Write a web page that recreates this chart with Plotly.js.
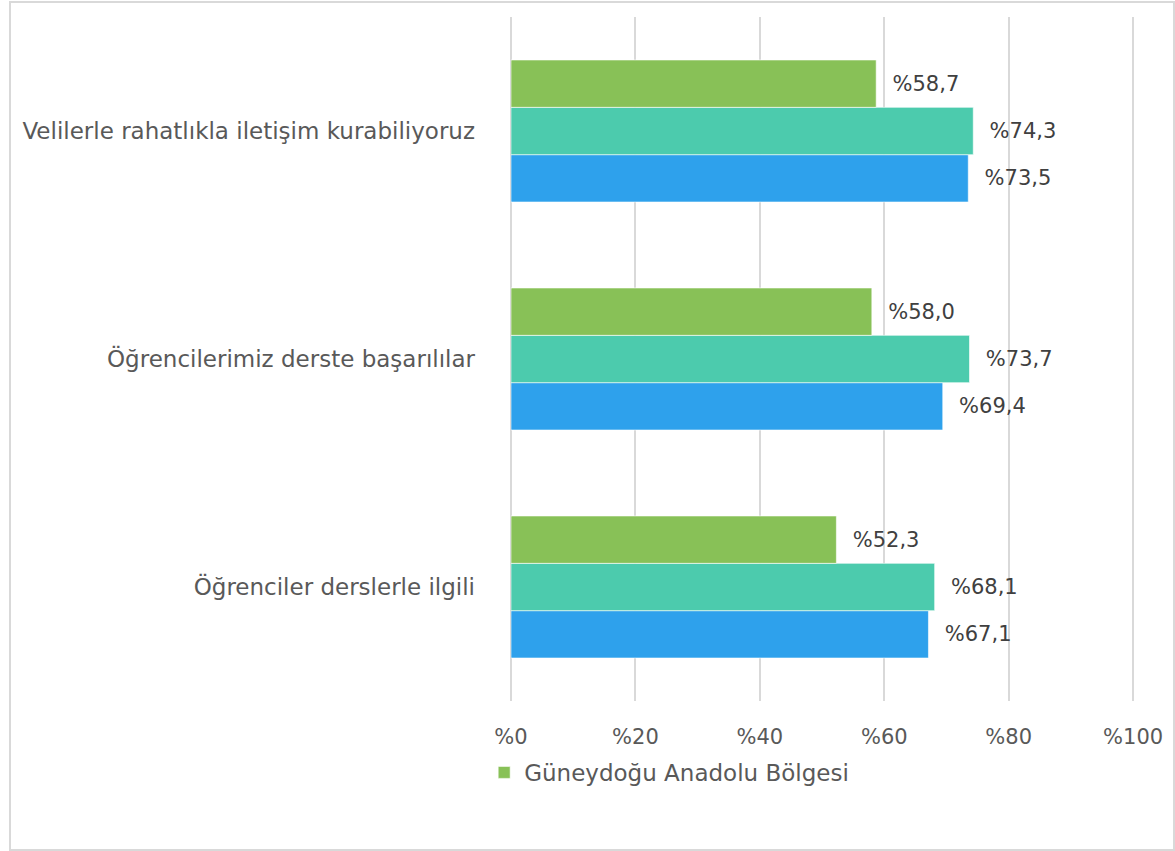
<!DOCTYPE html>
<html>
<head>
<meta charset="utf-8">
<script src="https://cdn.plot.ly/plotly-3.0.1.min.js"></script>
<style>
html,body{margin:0;padding:0;background:#fff;}
#frame{position:absolute;left:9px;top:1px;width:1162px;height:846px;border:2px solid #d9d9d9;box-sizing:content-box;}
#chart{position:absolute;left:0;top:0;width:1175px;height:851px;}
</style>
</head>
<body>
<div id="frame"></div>
<div id="chart"></div>
<script>
// categories listed bottom-to-top
var categories = ["Öğrenciler derslerle ilgili", "Öğrencilerimiz derste başarılılar", "Velilerle rahatlıkla iletişim kurabiliyoruz"];
var seriesNames = ["Türkiye Geneli", "Seri 2", "Güneydoğu Anadolu Bölgesi"];
var blueValues = [67.1, 69.4, 73.5];
var tealValues = [68.1, 73.7, 74.3];
var greenValues = [52.3, 58.0, 58.7];
var tickVals = [0, 20, 40, 60, 80, 100];
var tickText = ["%0", "%20", "%40", "%60", "%80", "%100"];

function lbl(arr){ return arr.map(function(v){ return "  %" + v.toFixed(1).replace(".", ","); }); }

var font = "DejaVu Sans, Verdana, sans-serif";
function trace(vals, name, color, show){
  return {
    type: "bar", orientation: "h", x: vals, y: categories, name: name,
    marker: {color: color, line: {color: "#ffffff", width: 0.6}},
    text: lbl(vals), textposition: "outside", cliponaxis: false,
    textfont: {family: font, size: 21, color: "#404040"},
    hoverinfo: "x+y", showlegend: show
  };
}
var data = [
  trace(blueValues, seriesNames[0], "#2ea1ec", false),
  trace(tealValues, seriesNames[1], "#4ccbad", false),
  trace(greenValues, seriesNames[2], "#88c157", true)
];
var layout = {
  width: 1175, height: 851,
  margin: {l: 511, r: 40, t: 17, b: 150},
  paper_bgcolor: "rgba(0,0,0,0)", plot_bgcolor: "rgba(0,0,0,0)",
  barmode: "group", bargap: 0.377, bargroupgap: 0,
  font: {family: font, size: 21, color: "#595959"},
  xaxis: {range: [0, 100.3], tickvals: tickVals, ticktext: tickText, showgrid: true,
          gridcolor: "#d9d9d9", gridwidth: 2, zeroline: true, zerolinecolor: "#d9d9d9", zerolinewidth: 2,
          showline: false, layer: "below traces",
          ticks: "", ticklabelstandoff: 21, tickfont: {family: font, size: 21, color: "#595959"}},
  yaxis: {type: "category", showgrid: false, zeroline: false, showline: false, ticks: "",
          ticklabelstandoff: 35, tickfont: {family: font, size: 23, color: "#595959"}},
  showlegend: true,
  legend: {orientation: "h", x: -0.043, xanchor: "left", y: -0.073, yanchor: "top",
           font: {family: font, size: 23, color: "#595959"}, bgcolor: "rgba(0,0,0,0)"}
};
Plotly.newPlot("chart", data, layout, {displayModeBar: false, staticPlot: true});
</script>
</body>
</html>
